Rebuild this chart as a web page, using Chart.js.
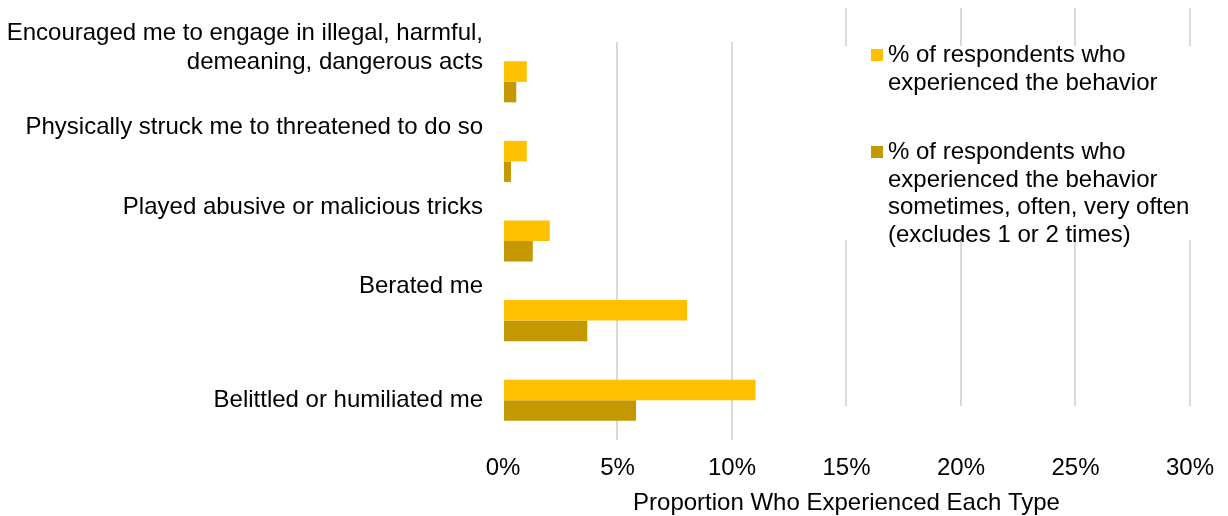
<!DOCTYPE html>
<html lang="en">

<head>
    <meta charset="UTF-8">
    <title>Abusive supervision behaviors</title>
    <script src="https://cdn.jsdelivr.net/npm/chart.js@4.4.1/dist/chart.umd.min.js"></script>
    <style>
        html, body {
            margin: 0;
            padding: 0;
            background: #fff;
            overflow: hidden;
        }
    </style>
</head>

<body>
    <canvas id="myChart" width="1228" height="516"></canvas>
    <script>
        // categories, top to bottom
        const categories = [
            ['Encouraged me to engage in illegal, harmful,', 'demeaning, dangerous acts'],
            ['Physically struck me to threatened to do so'],
            ['Played abusive or malicious tricks'],
            ['Berated me'],
            ['Belittled or humiliated me']
        ]
        // % experienced at all
        const experienced = [1.04, 1.04, 2.04, 8.04, 11.03]
        // % experienced sometimes, often, very often
        const experiencedOften = [0.58, 0.35, 1.3, 3.68, 5.81]

        const legendLines = [
            ['% of respondents who', 'experienced the behavior'],
            ['% of respondents who', 'experienced the behavior', 'sometimes, often, very often', '(excludes 1 or 2 times)']
        ]
        const xTicks = [0, 5, 10, 15, 20, 25, 30]
        const axisTitle = 'Proportion Who Experienced Each Type'

        const FONT = '"Liberation Sans", Arial, sans-serif'
        const FONT_SIZE = 24
        const GRID = '#d9d9d9'

        // category labels sit above the bars (last one centred on them)
        const categoryLabels = {
            id: 'categoryLabels',
            afterDraw(chart) {
                const ctx = chart.ctx
                const y = chart.scales.y
                const lh = 29
                ctx.save()
                ctx.font = FONT_SIZE + 'px ' + FONT
                ctx.fillStyle = '#000'
                ctx.textAlign = 'right'
                ctx.textBaseline = 'middle'
                categories.forEach((lines, i) => {
                    const c = y.getPixelForValue(i)
                    const mid = i === categories.length - 1 ? c : c - 34
                    const start = mid - (lines.length - 1) * lh / 2
                    lines.forEach((t, j) => ctx.fillText(t, y.right - 20, start + j * lh))
                })
                ctx.restore()
            }
        }

        // grid lines on the right part are drawn shifted, broken by the legend
        const shiftedGrid = {
            id: 'shiftedGrid',
            beforeDatasetsDraw(chart) {
                const ctx = chart.ctx
                const x = chart.scales.x
                const a = chart.chartArea
                ctx.save()
                ctx.strokeStyle = GRID
                ctx.lineWidth = 2
                xTicks.filter(v => v >= 15).forEach(v => {
                    const px = Math.round(x.getPixelForValue(v))
                    ctx.beginPath()
                    ctx.moveTo(px, a.top - 34)
                    ctx.lineTo(px, a.top + 4)
                    ctx.moveTo(px, a.top + 198)
                    ctx.lineTo(px, a.bottom - 34)
                    ctx.stroke()
                })
                ctx.restore()
            }
        }

        const customLegend = {
            id: 'customLegend',
            afterDraw(chart) {
                const ctx = chart.ctx
                const starts = [55.5, 152.5]
                ctx.save()
                ctx.font = FONT_SIZE + 'px ' + FONT
                ctx.textAlign = 'left'
                ctx.textBaseline = 'middle'
                chart.data.datasets.forEach((ds, i) => {
                    ctx.fillStyle = ds.backgroundColor
                    ctx.fillRect(871, starts[i] - 6.5, 12, 12)
                    ctx.fillStyle = '#000'
                    legendLines[i].forEach((t, j) => ctx.fillText(t, 888, starts[i] + j * 27.6))
                })
                ctx.restore()
            }
        }

        var ctx = document.getElementById('myChart').getContext('2d')

        var myChart = new Chart(ctx, {
            type: 'bar',
            data: {
                labels: categories.map(c => c.join(' ')),
                datasets: [{
                    label: legendLines[0].join(' '),
                    data: experienced,
                    backgroundColor: '#FFC000'
                }, {
                    label: legendLines[1].join(' '),
                    data: experiencedOften,
                    backgroundColor: '#C49800'
                }]
            },
            options: {
                indexAxis: 'y',
                responsive: false,
                animation: false,
                devicePixelRatio: 1,
                layout: {
                    padding: { top: 42, right: 33, bottom: 0, left: 0 }
                },
                datasets: {
                    bar: {
                        categoryPercentage: 0.516,
                        barPercentage: 1
                    }
                },
                plugins: {
                    legend: { display: false },
                    tooltip: { enabled: false }
                },
                scales: {
                    x: {
                        min: 0,
                        max: 30,
                        afterBuildTicks: (scale) => {
                            scale.ticks = xTicks.map(v => ({ value: v }))
                        },
                        afterFit: (scale) => {
                            scale.height = 76
                        },
                        border: { display: false },
                        grid: {
                            drawTicks: false,
                            lineWidth: 2,
                            color: (c) => (c.tick && c.tick.value > 0 && c.tick.value < 15) ? GRID : 'rgba(0,0,0,0)'
                        },
                        ticks: {
                            padding: 14,
                            color: '#000',
                            font: { family: FONT, size: FONT_SIZE },
                            callback: (v) => v + '%'
                        },
                        title: {
                            display: true,
                            text: axisTitle,
                            color: '#000',
                            padding: { top: 0, bottom: -2 },
                            font: { family: FONT, size: FONT_SIZE }
                        }
                    },
                    y: {
                        afterFit: (scale) => {
                            scale.width = 503
                        },
                        border: { display: false },
                        grid: { display: false },
                        ticks: { display: false }
                    }
                }
            },
            plugins: [shiftedGrid, categoryLabels, customLegend]
        })
    </script>
</body>

</html>
